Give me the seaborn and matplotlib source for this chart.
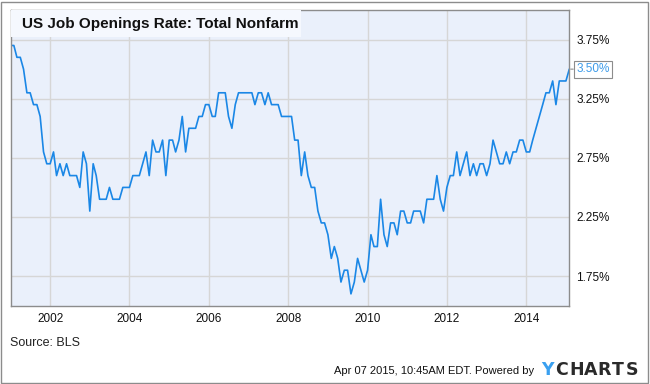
# US Job Openings Rate: Total Nonfarm - YCharts style line chart

import pandas as pd
import seaborn as sns
import matplotlib
matplotlib.use('Agg')
from matplotlib import pyplot as plt
import matplotlib.dates as mdates
from matplotlib.patches import Rectangle

# monthly values, Jan 2001 .. Feb 2015
rate = [3.7, 3.7, 3.6, 3.6, 3.5, 3.3, 3.3, 3.2, 3.2, 3.1, 2.8, 2.7,
        2.7, 2.8, 2.6, 2.7, 2.6, 2.7, 2.6, 2.6, 2.6, 2.5, 2.8, 2.7,
        2.3, 2.7, 2.6, 2.4, 2.4, 2.4, 2.5, 2.4, 2.4, 2.4, 2.5, 2.5,
        2.5, 2.6, 2.6, 2.6, 2.7, 2.8, 2.6, 2.9, 2.8, 2.8, 2.9, 2.6,
        2.9, 2.9, 2.8, 2.9, 3.1, 2.8, 3.0, 3.0, 3.0, 3.1, 3.1, 3.2,
        3.2, 3.1, 3.1, 3.3, 3.3, 3.3, 3.1, 3.0, 3.2, 3.3, 3.3, 3.3,
        3.3, 3.3, 3.2, 3.3, 3.3, 3.2, 3.3, 3.2, 3.2, 3.2, 3.1, 3.1,
        3.1, 3.1, 2.9, 2.9, 2.6, 2.8, 2.6, 2.5, 2.5, 2.3, 2.2, 2.2,
        2.1, 1.9, 2.0, 1.9, 1.7, 1.8, 1.8, 1.6, 1.7, 1.9, 1.8, 1.7,
        1.8, 2.1, 2.0, 2.0, 2.4, 2.1, 2.0, 2.2, 2.2, 2.1, 2.3, 2.3,
        2.2, 2.2, 2.3, 2.3, 2.3, 2.2, 2.4, 2.4, 2.4, 2.6, 2.4, 2.3,
        2.5, 2.6, 2.6, 2.8, 2.6, 2.7, 2.8, 2.6, 2.7, 2.6, 2.7, 2.7,
        2.6, 2.7, 2.9, 2.8, 2.7, 2.7, 2.8, 2.7, 2.8, 2.8, 2.9, 2.9,
        2.8, 2.8, 2.9, 3.0, 3.1, 3.2, 3.3, 3.3, 3.4, 3.2, 3.4, 3.4,
        3.4, 3.5]
dates = pd.date_range('2001-01-01', periods=len(rate), freq='MS')

y_ticks = [1.75, 2.25, 2.75, 3.25, 3.75]
title = "US Job Openings Rate: Total Nonfarm"
source = "Source: BLS"
stamp = "Apr 07 2015, 10:45AM EDT. Powered by"
last_label = "3.50%"

df = pd.DataFrame({'date': dates, 'rate': rate})

sns.set_style('white')
plt.rcParams['font.family'] = ['Liberation Sans', 'DejaVu Sans']

fig = plt.figure(figsize=(6.5, 3.84), dpi=100)
W, H = 650, 384
ax = fig.add_axes([10.5 / W, 1 - 305.7 / H, (569.3 - 10.5) / W, (305.7 - 10) / H])
ax.set_facecolor('#eaf0fb')

sns.lineplot(data=df, x='date', y='rate', ax=ax, color='#1a87e6', linewidth=1.2)

ax.set_xlim(dates[0], dates[-1])
ax.set_ylim(1.5, 4.0)
ax.set_xlabel('')
ax.set_ylabel('')

ax.xaxis.set_major_locator(mdates.YearLocator(2))
ax.xaxis.set_major_formatter(mdates.DateFormatter('%Y'))
ax.set_yticks(y_ticks)
ax.set_yticklabels([f"{v:.2f}%" for v in y_ticks])
ax.yaxis.tick_right()
ax.tick_params(axis='both', length=0, labelsize=8.5, colors='#111111')
ax.tick_params(axis='x', pad=5)
ax.tick_params(axis='y', pad=5)
ax.grid(True, color='#d6d6d6', linewidth=1)
ax.set_axisbelow(True)
for s in ax.spines.values():
    s.set_visible(True)
    s.set_color('#8c8c8c')
    s.set_linewidth(1)

# last value callout
ax.annotate(last_label, xy=(dates[-1], rate[-1]), xytext=(5, 0),
            textcoords='offset points', ha='left', va='center',
            fontsize=8.5, color='#3d9be9', annotation_clip=False,
            bbox=dict(boxstyle='square,pad=0.22', fc='white', ec='#8c8c8c', lw=0.8),
            arrowprops=dict(arrowstyle='-', color='#8c8c8c', lw=0.8,
                            shrinkA=0, shrinkB=1))

# title box on top of the plot
fig.add_artist(Rectangle((10.5 / W, 1 - 37 / H), 290 / W, 27 / H,
                         transform=fig.transFigure, facecolor='#f5f8fe',
                         edgecolor='none', zorder=5))
fig.text(21.5 / W, 1 - 23.7 / H, title, fontsize=11, fontweight='bold',
         va='center', ha='left', color='#111111', zorder=6)

# footer
fig.text(10.5 / W, 1 - 342.5 / H, source, fontsize=9, va='center', color='#222222')
fig.text(534 / W, 1 - 370.7 / H, stamp, fontsize=8, va='center', ha='right', color='#111111')
logo = "YCHARTS"
for k, ch in enumerate(logo):
    fig.text((541 + k * 14.2) / W, 1 - 370 / H, ch, fontsize=12.5, fontweight='bold',
             va='center', ha='left', family='DejaVu Sans',
             color='#3aa0f0' if ch == 'Y' and k == 0 else '#2a2a2a')

# outer frame
fig.add_artist(Rectangle((1 / W, 1.5 / H), 647 / W, 381 / H, transform=fig.transFigure,
                         fill=False, edgecolor='#8c8c8c', linewidth=1, zorder=10))

plt.savefig('out.png', dpi=100)
